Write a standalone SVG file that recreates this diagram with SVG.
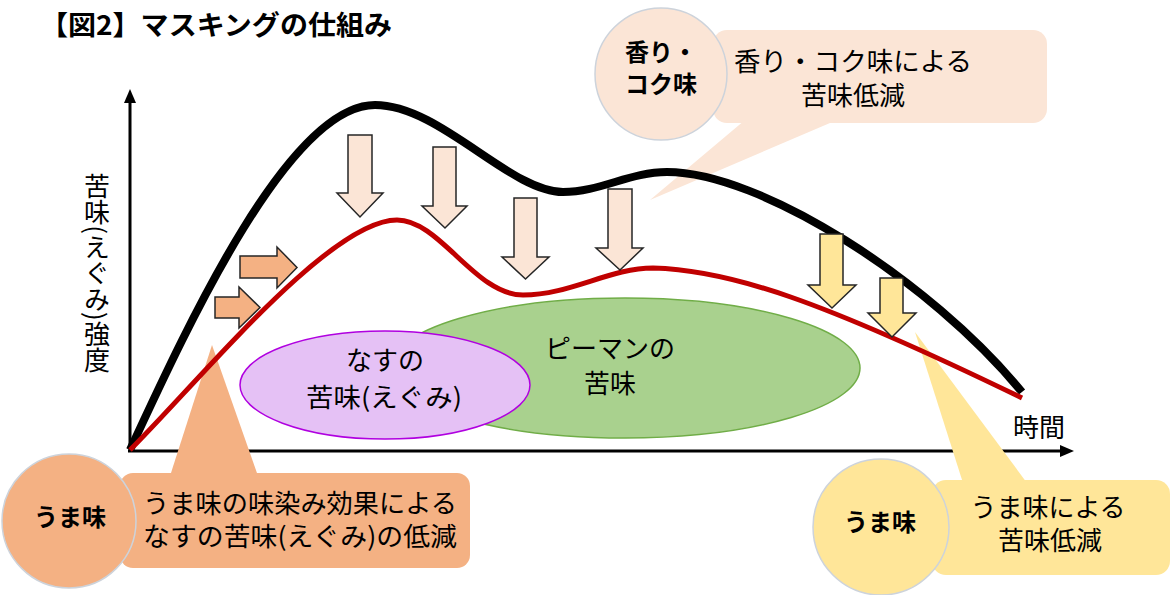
<svg xmlns="http://www.w3.org/2000/svg" width="1172" height="595" viewBox="0 0 1172 595">
<style>
text{font-family:"Noto Sans CJK JP","Noto Sans",sans-serif;fill:#000}
.t{font-size:26px;text-anchor:middle}
.b{font-size:24px;font-weight:bold;text-anchor:middle}
.arr{stroke:#262626;stroke-width:1.5;stroke-linejoin:miter}
.or{fill:#F4B183}.pe{fill:#FBE5D6}.ye{fill:#FFE699}
.circ{stroke:#CDD3DB;stroke-width:1.5}
</style>
<rect width="1172" height="595" fill="#fff"/>
<text id="title" x="40" y="35" textLength="352" lengthAdjust="spacingAndGlyphs" style="font-size:27px;font-weight:bold">【図2】マスキングの仕組み</text>

<g id="axes">
<line x1="130" y1="452" x2="130" y2="100" stroke="#000" stroke-width="3"/>
<polygon points="130,89 124,103 136,103" fill="#000"/>
<line x1="128" y1="451" x2="1062" y2="451" stroke="#000" stroke-width="3"/>
<polygon points="1074,451 1060,445 1060,457" fill="#000"/>
<text x="97" y="273" style="font-size:26px;writing-mode:vertical-rl;text-anchor:middle">苦味(えぐみ)強度</text>
<text class="t" x="1039" y="437">時間</text>
</g>

<g id="green">
<ellipse cx="625" cy="368" rx="235" ry="70" fill="#A9D18E" stroke="#70AD47" stroke-width="1.5"/>
<text class="t" x="610" y="358">ピーマンの</text>
<text class="t" x="610" y="393">苦味</text>
</g>
<g id="purple">
<ellipse cx="385" cy="385" rx="145" ry="54" fill="#E5C1F5" stroke="#B000E0" stroke-width="1.5"/>
<text class="t" x="385" y="370">なすの</text>
<text class="t" x="384" y="407" textLength="156" lengthAdjust="spacingAndGlyphs">苦味(えぐみ)</text>
</g>

<g id="callout-top">
<rect x="713" y="30" width="334" height="93" rx="14" class="pe"/>
<polygon points="745,120 837,120 650,200" class="pe"/>
<circle cx="661" cy="74" r="66" class="pe circ"/>
<text class="b" x="661" y="61">香り・</text>
<text class="b" x="661" y="93">コク味</text>
<text class="t" x="853" y="71" textLength="238" lengthAdjust="spacingAndGlyphs">香り・コク味による</text>
<text class="t" x="853" y="105">苦味低減</text>
</g>

<g id="callout-left">
<polygon points="170,476 258,476 212,345" class="or"/>
<rect x="120" y="473" width="350" height="95" rx="13" class="or"/>
<circle cx="69" cy="521" r="67" class="or circ"/>
<text class="b" x="70" y="526">うま味</text>
<text class="t" x="300" y="513" textLength="314" lengthAdjust="spacingAndGlyphs">うま味の味染み効果による</text>
<text class="t" x="300" y="546" textLength="314" lengthAdjust="spacingAndGlyphs">なすの苦味(えぐみ)の低減</text>
</g>

<g id="callout-right">
<polygon points="963,483 1027,483 915,332" class="ye"/>
<rect x="932" y="480" width="238" height="95" rx="14" class="ye"/>
<circle cx="881" cy="527" r="68" class="ye circ"/>
<text class="b" x="880" y="531">うま味</text>
<text class="t" x="1048" y="517">うま味による</text>
<text class="t" x="1050" y="550">苦味低減</text>
</g>

<g id="connectors" fill="none" stroke-linecap="butt">
<path d="M130,450 C190,320 290,105 375,105 C440,105 510,192 563,192 C600,192 630,172 667,172 C760,172 930,280 1022,392" stroke="#000" stroke-width="8"/>
<path d="M130,450 C200,380 330,220 397,220 C440,220 475,295 523,295 C570,295 610,268 653,268 C730,270 820,300 1022,398" stroke="#C00000" stroke-width="5"/>
</g>

<g id="arrows">
<polygon class="arr or" points="240,256 277,256 277,247 297,267.5 277,288 277,278 240,278"/>
<polygon class="arr or" points="215,297 239,297 239,287 260,307.5 239,328 239,318 215,318"/>
<polygon class="arr pe" points="348,135 372,135 372,193 383,193 360,217 337,193 348,193"/>
<polygon class="arr pe" points="433,147 456,147 456,206 467,206 445,228 422,206 433,206"/>
<polygon class="arr pe" points="514,198 537,198 537,257 549,257 525.5,279 502,257 514,257"/>
<polygon class="arr pe" points="608,189 632,189 632,248 643,248 620,270 596,248 608,248"/>
<polygon class="arr ye" points="820,234 843,234 843,285 856,285 832,308 808,285 820,285"/>
<polygon class="arr ye" points="880,278 903,278 903,313 916,313 892,337 868,313 880,313"/>
</g>
</svg>
